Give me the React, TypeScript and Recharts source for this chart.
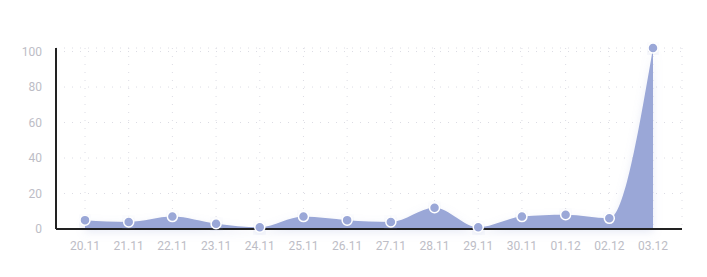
import React from 'react';
import { AreaChart, Area, XAxis, YAxis, CartesianGrid } from 'recharts';

const days = ['20.11', '21.11', '22.11', '23.11', '24.11', '25.11', '26.11', '27.11', '28.11', '29.11', '30.11', '01.12', '02.12', '03.12'];
const counts = [5, 4, 7, 3, 1, 7, 5, 4, 12, 1, 7, 8, 6, 102];
const yTicks = [0, 20, 40, 60, 80, 100];

const data = days.map((day, i) => ({ day, count: counts[i] }));

const tickStyle = { fill: '#bdbdc6', fontSize: 12, fontFamily: 'Roboto, sans-serif' };

const App: React.FC = () => {
  return (
    <div style={{ position: 'absolute', left: 0, top: 0, width: 707, height: 277, background: '#fff' }}>
      <AreaChart width={707} height={277} data={data} margin={{ top: 48, right: 25, left: 16, bottom: 18 }}>
        <defs>
          <filter id="glow" x="-10%" y="-10%" width="120%" height="130%">
            <feDropShadow dx="0" dy="3" stdDeviation="4" floodColor="#9aa7d7" floodOpacity={0.25} />
          </filter>
        </defs>
        <CartesianGrid stroke="#dcdce4" strokeDasharray="1 7" />
        <XAxis
          dataKey="day"
          padding={{ left: 29, right: 29 }}
          tick={tickStyle}
          tickLine={false}
          axisLine={{ stroke: '#222', strokeWidth: 2 }}
          tickMargin={6}
          height={30}
          interval={0}
        />
        <YAxis
          domain={[0, 'dataMax']}
          ticks={yTicks}
          tick={tickStyle}
          tickLine={false}
          axisLine={{ stroke: '#222', strokeWidth: 2 }}
          tickMargin={8}
          width={40}
        />
        <Area
          type="monotone"
          dataKey="count"
          stroke="none"
          fill="#9aa7d7"
          fillOpacity={1}
          filter="url(#glow)"
          dot={{ r: 5, fill: '#9aa7d7', stroke: '#fff', strokeWidth: 1.5, fillOpacity: 1 }}
          activeDot={false}
          isAnimationActive={false}
        />
      </AreaChart>
    </div>
  );
};

export default App;
